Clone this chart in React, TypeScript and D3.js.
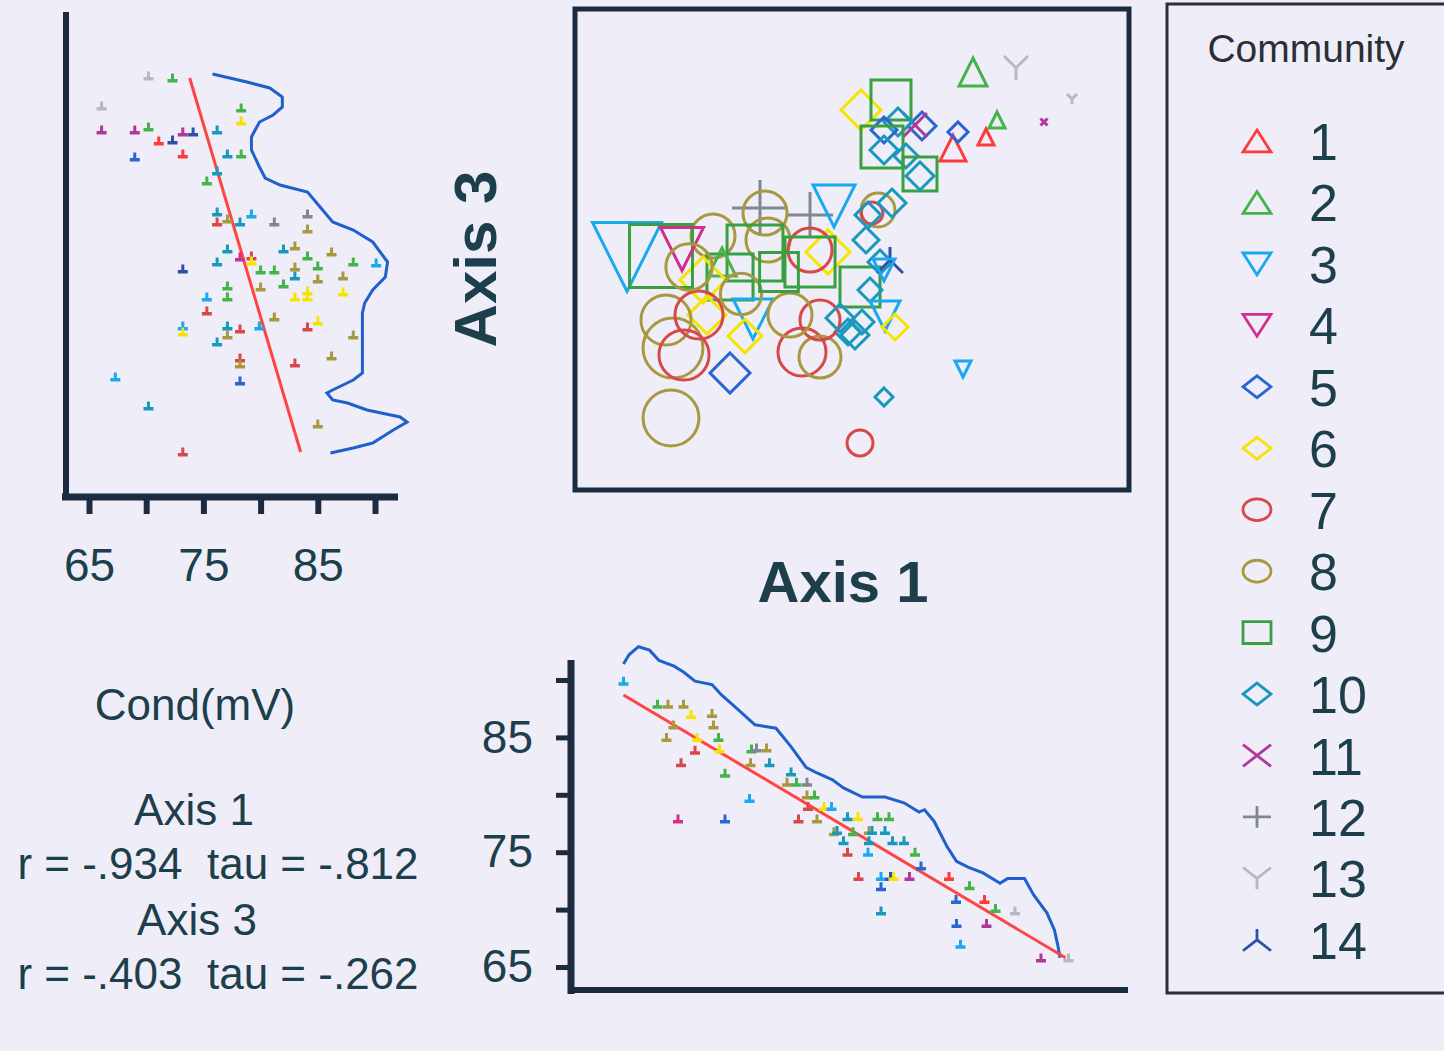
import React, { useEffect, useRef } from "react";
import * as d3 from "d3";

// community legend
const communities = ["1", "2", "3", "4", "5", "6", "7", "8", "9", "10", "11", "12", "13", "14"];
const communityColors = [
  "#ff3a3a", "#44b44a", "#1aa8f0", "#d0308c", "#2866d0", "#f4e400", "#d84848",
  "#a89840", "#38a040", "#1898bc", "#b03898", "#7f8890", "#b8b8c2", "#3050a8",
];
const communityShapes = [
  "triUp", "triUp", "triDown", "triDown", "diamond", "diamond", "circle",
  "circle", "square", "diamond", "cross", "plus", "wye", "lambda",
];

// main ordination: [community, axis1, axis3, cond]
const ordinationPoints = [
  [2, 79.2, 83.0, 73.7], [13, 87.8, 83.8, 72.1], [13, 99.0, 77.6, 66.6], [11, 93.4, 73.0, 65.4],
  [2, 84.0, 73.4, 69.0], [1, 81.8, 70.0, 69.0], [1, 75.2, 67.8, 72.9], [5, 76.2, 71.0, 70.6],
  [5, 69.0, 72.2, 73.7], [11, 67.6, 72.4, 72.1], [6, 56.8, 75.4, 78.5], [9, 62.8, 77.4, 78.5],
  [10, 64.2, 73.0, 73.7], [5, 61.4, 71.4, 72.9], [9, 61.0, 68.0, 79.3], [10, 61.4, 67.4, 73.7],
  [10, 65.8, 66.2, 72.1], [9, 68.6, 62.6, 76.1], [10, 68.6, 62.2, 73.7], [12, 36.6, 55.8, 84.8],
  [12, 46.6, 54.4, 80.9], [3, 51.4, 56.2, 79.3], [8, 60.2, 55.4, 76.1], [7, 59.0, 54.8, 71.3],
  [10, 63.0, 56.8, 73.7], [10, 58.2, 54.4, 72.9], [8, 37.6, 54.8, 80.1], [8, 27.2, 50.2, 80.1],
  [8, 38.2, 49.4, 80.1], [9, 35.6, 46.8, 84.8], [9, 30.6, 42.0, 80.9], [2, 29.0, 45.0, 73.7],
  [6, 25.2, 41.4, 80.9], [6, 26.0, 34.4, 77.7], [6, 50.2, 47.0, 80.1], [7, 46.6, 47.4, 80.1],
  [9, 46.6, 45.0, 82.5], [9, 56.6, 40.0, 78.5], [10, 57.8, 49.4, 72.9], [10, 60.6, 45.0, 72.1],
  [10, 58.6, 39.4, 72.1], [10, 57.0, 33.0, 72.1], [10, 54.2, 31.0, 72.9], [14, 62.6, 45.4, 72.9],
  [3, 61.6, 34.2, 74.5], [3, 61.4, 43.4, 71.3], [6, 63.6, 32.0, 72.9], [3, 35.2, 33.6, 78.5],
  [3, 10.0, 46.0, 90.0], [9, 16.8, 46.2, 87.6], [4, 21.0, 47.6, 79.7], [8, 17.8, 33.4, 82.5],
  [8, 19.2, 27.8, 86.4], [7, 21.4, 26.4, 82.5], [7, 24.4, 34.4, 81.7], [5, 30.6, 22.8, 78.5],
  [8, 18.8, 13.8, 84.8], [7, 45.0, 27.0, 81.7], [8, 48.6, 26.0, 79.3], [7, 48.6, 33.4, 78.5],
  [8, 42.6, 34.4, 80.1], [10, 52.6, 33.8, 73.7], [10, 55.6, 30.4, 73.7], [10, 61.4, 18.0, 69.8],
  [3, 77.2, 23.6, 69.0], [7, 56.6, 8.8, 72.9], [8, 22.4, 44.0, 81.0], [8, 32.8, 38.6, 79.0],
  [9, 40.4, 43.0, 78.0], [6, 33.6, 30.2, 76.0],
];

// cond vs axis 3: [community, cond, axis3]
const condAxis3Points = [
  [13, 70.2, 82], [2, 72.3, 81.6], [13, 66.1, 76], [2, 78.3, 75.6], [6, 78.3, 73], [11, 66.1, 71.2],
  [11, 69.0, 71.2], [2, 70.2, 71.8], [1, 71.1, 69], [14, 72.3, 69.2], [11, 73.2, 70.8], [14, 74.1, 70.8],
  [10, 76.2, 71.2], [5, 69.0, 65.8], [1, 73.2, 66.4], [10, 77.1, 66.4], [2, 78.3, 66.4], [10, 76.2, 63],
  [2, 75.3, 61], [10, 76.2, 54.8], [7, 76.2, 52.8], [8, 77.1, 53.4], [10, 78.2, 52.8], [3, 79.2, 54.4],
  [12, 81.2, 52.8], [12, 84.1, 54.4], [8, 84.1, 51.4], [10, 77.1, 47.4], [8, 83.0, 48], [10, 82.0, 47.4],
  [2, 84.1, 46], [8, 86.2, 46.8], [2, 88.1, 44.8], [3, 90.1, 44.6], [14, 73.2, 43.4], [10, 76.2, 44.8],
  [4, 78.2, 45.8], [7, 79.2, 46], [6, 79.2, 45], [2, 80.0, 43.2], [2, 81.2, 43.2], [8, 83.0, 43.8],
  [10, 83.0, 42], [2, 85.0, 44], [8, 85.0, 41.4], [8, 87.2, 42], [2, 82.0, 40.4], [8, 80.0, 39.8],
  [2, 77.1, 40], [2, 77.1, 37.8], [6, 83.0, 37.8], [6, 84.1, 39], [6, 84.1, 37.8], [6, 87.2, 38.8],
  [3, 75.3, 37.8], [7, 75.3, 35], [8, 81.2, 33.8], [6, 85.0, 33], [3, 73.2, 32], [6, 73.2, 30.8],
  [10, 77.1, 32], [8, 77.1, 30.2], [7, 78.2, 31.4], [3, 79.9, 32], [7, 84.1, 31.8], [8, 88.1, 30.2],
  [10, 76.2, 28.8], [7, 78.2, 25.6], [8, 78.2, 24.4], [7, 83.0, 24.6], [8, 86.2, 26], [5, 78.2, 21],
  [3, 67.3, 21.8], [10, 70.2, 16], [8, 85.0, 12.4], [7, 73.2, 6.8],
];
const condAxis3Fit = [[73.8, 81.8], [83.5, 7]];
const condAxis3Smooth = [
  [75.8, 82.6], [78.8, 81], [80.8, 79.8], [81.9, 78], [81.9, 76], [81.1, 74.4], [79.9, 73], [79.2, 70],
  [79.2, 67.4], [79.9, 64], [80.4, 61.8], [81.7, 60.4], [84.1, 59], [85.2, 56], [86.3, 53], [88.1, 51.4],
  [89.8, 49], [91.1, 45], [90.9, 42], [89.8, 39.4], [89.1, 36.8], [88.9, 34.8], [88.9, 22.8], [88.1, 21.4],
  [87.2, 20.4], [86.3, 19.4], [85.8, 18.8], [86.3, 17.4], [87.6, 16.8], [89.3, 15.4], [92.2, 14], [92.8, 13],
  [91.6, 11.4], [89.8, 8.8], [88.1, 7.8], [86.1, 6.8],
];

// axis 1 vs cond: [community, axis1, cond]
const axis1CondPoints = [
  [3, 9.3, 89.8], [2, 16.1, 87.8], [8, 18.2, 87.8], [8, 21.3, 87.8], [6, 22.8, 86.9], [8, 27.0, 87.0],
  [8, 27.3, 86.0], [8, 19.3, 86.0], [8, 17.9, 84.9], [6, 24.0, 84.9], [7, 23.6, 83.8], [2, 28.3, 84.9],
  [6, 28.5, 83.9], [7, 20.8, 82.7], [2, 29.6, 81.8], [2, 34.9, 83.9], [12, 35.9, 84.0], [8, 37.9, 84.0],
  [8, 34.7, 82.7], [10, 38.5, 82.7], [3, 34.5, 79.6], [4, 20.2, 77.8], [5, 29.6, 77.8], [10, 42.8, 81.9],
  [8, 42.0, 81.0], [2, 43.9, 81.0], [12, 46.0, 81.0], [8, 46.0, 79.9], [2, 47.5, 79.9], [7, 46.2, 78.9],
  [7, 44.3, 77.8], [8, 48.0, 77.8], [6, 49.4, 78.9], [3, 50.9, 78.9], [10, 54.1, 78.0], [6, 56.2, 78.0],
  [2, 60.1, 78.0], [2, 62.4, 78.0], [8, 51.4, 76.7], [10, 52.0, 76.8], [2, 55.2, 76.7], [8, 58.4, 76.8],
  [10, 59.0, 76.8], [10, 61.6, 76.8], [10, 53.3, 75.9], [10, 63.1, 75.9], [10, 65.4, 75.9], [10, 58.4, 75.9],
  [7, 54.1, 74.9], [3, 58.2, 74.9], [2, 67.6, 74.9], [5, 68.8, 73.7], [7, 56.3, 72.8], [3, 60.8, 72.8],
  [14, 62.7, 72.8], [6, 63.3, 72.8], [11, 66.5, 72.8], [5, 60.8, 71.9], [10, 60.8, 69.8], [1, 74.4, 72.8],
  [2, 78.5, 72.0], [5, 75.8, 70.8], [1, 81.5, 70.8], [2, 83.7, 70.0], [13, 87.6, 69.8], [5, 75.9, 68.7],
  [11, 81.9, 68.7], [3, 76.7, 66.9], [11, 92.8, 65.7], [13, 98.3, 65.7],
];
const axis1CondFit = [[9.3, 88.7], [97.7, 65.8]];
const axis1CondSmooth = [
  [9.3, 91.4], [10.4, 92.2], [12.3, 92.9], [14.5, 92.6], [16.4, 91.7], [19.4, 91.2], [21.3, 90.7],
  [23.6, 89.9], [27.0, 89.6], [28.9, 88.7], [31.5, 87.7], [35.6, 86.1], [39.8, 85.8], [42.8, 84.2],
  [45.8, 82.4], [48.0, 81.9], [51.1, 81.3], [53.3, 80.6], [57.1, 79.8], [61.6, 79.8], [65.4, 79.3],
  [68.4, 78.5], [69.5, 78.7], [71.4, 77.7], [74.0, 75.5], [75.9, 74.2], [78.2, 73.7], [81.2, 73.2],
  [84.6, 72.3], [86.1, 72.7], [89.5, 72.7], [91.3, 71.3], [94.0, 69.7], [95.5, 68.2], [96.2, 66.8],
  [96.6, 65.8],
];

const condTicks = [65, 70, 75, 80, 85, 90];
const statLines = ["Cond(mV)", "Axis 1", "r = -.934  tau = -.812", "Axis 3", "r = -.403  tau = -.262"];

const FONT = "'Liberation Sans', Arial, sans-serif";
const ink = "#1d3f4c";
const axisInk = "#1b2b40";

function symbolPath(shape, r) {
  switch (shape) {
    case "triUp": return `M0,${-r}L${r},${r}L${-r},${r}Z`;
    case "triDown": return `M${-r},${-r}L${r},${-r}L0,${r}Z`;
    case "diamond": return `M0,${-r}L${r},0L0,${r}L${-r},0Z`;
    case "circle": return `M${r},0A${r},${r} 0 1 1 ${-r},0A${r},${r} 0 1 1 ${r},0Z`;
    case "square": return `M${-r},${-r}H${r}V${r}H${-r}Z`;
    case "cross": return `M${-r},${-r}L${r},${r}M${-r},${r}L${r},${-r}`;
    case "plus": return `M${-r},0H${r}M0,${-r}V${r}`;
    case "wye": return `M${-r},${-r}L0,0L${r},${-r}M0,0V${r}`;
    default: return `M${-r},${r}L0,0L${r},${r}M0,0V${-r}`;
  }
}

// little "tack" marker used by the two side scatterplots
const tack = "M-5,0h10v3.5h-10ZM-1.5,-5.5h3v5.5h-3Z";

const App = () => {
  const svgRef = useRef();

  useEffect(() => {
    const svg = d3.select(svgRef.current);
    svg.selectAll("*").remove();

    const a1X = d3.scaleLinear([0, 110], [577, 1127]);
    const a3Y = d3.scaleLinear([0, 95], [487, 12]);
    const condX = d3.scaleLinear([65, 90], [89, 375]);
    const condY = d3.scaleLinear([65, 90], [967, 680]);
    const rScale = d3.scaleLinear([65, 90], [3, 34.5]);
    const color = (c) => communityColors[c - 1];
    const shape = (c) => communityShapes[c - 1];

    svg.append("rect").attr("width", 1444).attr("height", 1051).attr("fill", "#efeef8");

    // ---- top-left: Cond vs Axis 3
    const tl = svg.append("g");
    tl.append("path")
      .attr("d", d3.line().x((d) => condX(d[0])).y((d) => a3Y(d[1]))(condAxis3Smooth))
      .attr("fill", "none").attr("stroke", "#2060cc").attr("stroke-width", 3);
    tl.append("path")
      .attr("d", d3.line().x((d) => condX(d[0])).y((d) => a3Y(d[1]))(condAxis3Fit))
      .attr("stroke", "#ff4444").attr("stroke-width", 3);
    tl.selectAll("path.pt").data(condAxis3Points).join("path").attr("class", "pt")
      .attr("transform", (d) => `translate(${condX(d[1])},${a3Y(d[2])})`)
      .attr("d", tack).attr("fill", (d) => color(d[0]));
    tl.append("line").attr("x1", 66).attr("x2", 66).attr("y1", 12).attr("y2", 500)
      .attr("stroke", axisInk).attr("stroke-width", 6);
    tl.append("line").attr("x1", 62).attr("x2", 398).attr("y1", 497).attr("y2", 497)
      .attr("stroke", axisInk).attr("stroke-width", 7);
    const tlAxis = tl.append("g").attr("transform", "translate(0,500)")
      .call(d3.axisBottom(condX).tickValues(condTicks).tickSize(14).tickPadding(34)
        .tickFormat((d) => (d % 10 === 5 ? d : "")));
    tlAxis.select(".domain").remove();
    tlAxis.selectAll(".tick line").attr("stroke", axisInk).attr("stroke-width", 6);
    tlAxis.selectAll(".tick text").attr("fill", ink).attr("font-size", 46).attr("font-family", FONT);

    // ---- main ordination
    const main = svg.append("g");
    main.append("clipPath").attr("id", "box").append("rect")
      .attr("x", 577).attr("y", 11).attr("width", 550).attr("height", 477);
    main.append("g").attr("clip-path", "url(#box)")
      .selectAll("path").data(ordinationPoints).join("path")
      .attr("transform", (d) => `translate(${a1X(d[1])},${a3Y(d[2])})`)
      .attr("d", (d) => symbolPath(shape(d[0]), rScale(d[3])))
      .attr("fill", "none").attr("stroke", (d) => color(d[0])).attr("stroke-width", 3);
    main.append("rect").attr("x", 575).attr("y", 9).attr("width", 554).attr("height", 481)
      .attr("fill", "none").attr("stroke", axisInk).attr("stroke-width", 5);
    main.append("text").attr("transform", "translate(496,259) rotate(-90)")
      .attr("text-anchor", "middle").attr("font-family", FONT).attr("font-weight", "bold")
      .attr("font-size", 60).attr("fill", ink).text("Axis 3");
    main.append("text").attr("x", 843).attr("y", 602)
      .attr("text-anchor", "middle").attr("font-family", FONT).attr("font-weight", "bold")
      .attr("font-size", 58).attr("fill", ink).text("Axis 1");

    // ---- bottom: Axis 1 vs Cond
    const bt = svg.append("g");
    bt.append("path")
      .attr("d", d3.line().x((d) => a1X(d[0])).y((d) => condY(d[1]))(axis1CondSmooth))
      .attr("fill", "none").attr("stroke", "#2060cc").attr("stroke-width", 3);
    bt.append("path")
      .attr("d", d3.line().x((d) => a1X(d[0])).y((d) => condY(d[1]))(axis1CondFit))
      .attr("stroke", "#ff4444").attr("stroke-width", 3);
    bt.selectAll("path.pt").data(axis1CondPoints).join("path").attr("class", "pt")
      .attr("transform", (d) => `translate(${a1X(d[1])},${condY(d[2])})`)
      .attr("d", tack).attr("fill", (d) => color(d[0]));
    bt.append("line").attr("x1", 571).attr("x2", 571).attr("y1", 660).attr("y2", 994)
      .attr("stroke", axisInk).attr("stroke-width", 7);
    bt.append("line").attr("x1", 568).attr("x2", 1128).attr("y1", 990).attr("y2", 990)
      .attr("stroke", axisInk).attr("stroke-width", 6);
    const btAxis = bt.append("g").attr("transform", "translate(571,0)")
      .call(d3.axisLeft(condY).tickValues(condTicks).tickSize(15).tickPadding(23)
        .tickFormat((d) => (d % 10 === 5 ? d : "")));
    btAxis.select(".domain").remove();
    btAxis.selectAll(".tick line").attr("stroke", axisInk).attr("stroke-width", 5);
    btAxis.selectAll(".tick text").attr("fill", ink).attr("font-size", 46).attr("font-family", FONT);

    // ---- statistics text
    const statY = [720, 825, 879, 935, 989];
    const statX = [195, 194, 218, 197, 218];
    svg.append("g").selectAll("text").data(statLines).join("text")
      .attr("x", (d, i) => statX[i]).attr("y", (d, i) => statY[i])
      .attr("text-anchor", "middle").attr("font-family", FONT).attr("font-size", 44)
      .attr("fill", ink).style("white-space", "pre").text((d) => d);

    // ---- legend
    const lg = svg.append("g");
    lg.append("rect").attr("x", 1167).attr("y", 4).attr("width", 300).attr("height", 989)
      .attr("fill", "none").attr("stroke", "#2a3038").attr("stroke-width", 3);
    lg.append("text").attr("x", 1306).attr("y", 62).attr("text-anchor", "middle")
      .attr("font-family", FONT).attr("font-size", 39).attr("fill", "#2a2f36").text("Community");
    const row = lg.selectAll("g.row").data(communities).join("g").attr("class", "row")
      .attr("transform", (d, i) => `translate(0,${141 + i * 61.45})`);
    row.append("path").attr("transform", "translate(1257,0) scale(1,0.78)")
      .attr("d", (d, i) => symbolPath(communityShapes[i], 14))
      .attr("fill", "none").attr("stroke", (d, i) => communityColors[i])
      .attr("stroke-width", 2.8).attr("vector-effect", "non-scaling-stroke");
    row.append("text").attr("x", 1309).attr("y", 19).attr("font-family", FONT)
      .attr("font-size", 52).attr("fill", ink).text((d) => d);
  }, []);

  return (
    <svg
      ref={svgRef}
      width={1444}
      height={1051}
      viewBox="0 0 1444 1051"
      style={{ position: "absolute", left: 0, top: 0, display: "block" }}
    />
  );
};

export default App;
